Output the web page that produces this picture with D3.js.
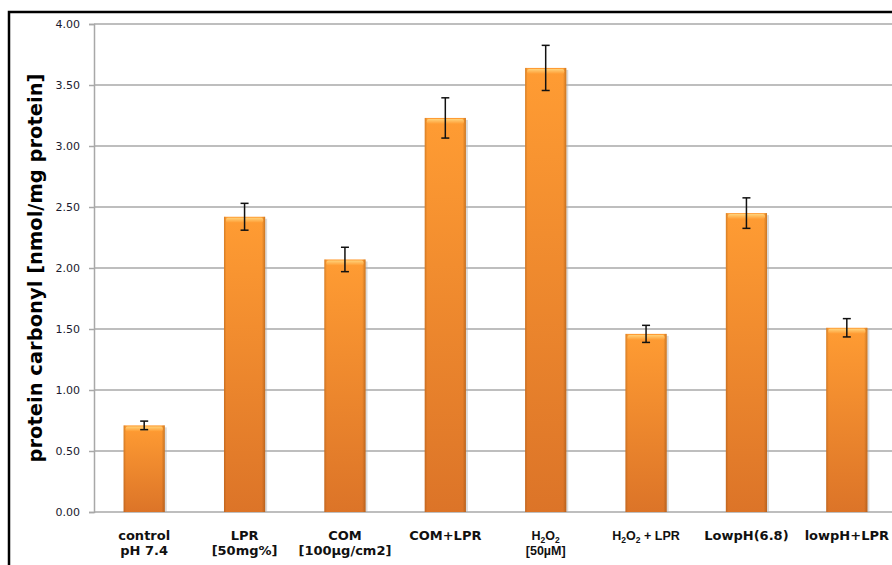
<!DOCTYPE html>
<html><head><meta charset="utf-8">
<script src="https://cdn.jsdelivr.net/npm/d3@7"></script>
<style>body{margin:0;background:#fff}</style>
</head><body>
<script>
const categories = ["control|pH 7.4","LPR|[50mg%]","COM|[100µg/cm2]","COM+LPR","H2O2|[50µM]","H2O2+LPR","LowpH(6.8)","lowpH+LPR"];
const values = [0.71, 2.42, 2.07, 3.23, 3.64, 1.46, 2.45, 1.51];
const errors = [0.035, 0.11, 0.10, 0.165, 0.185, 0.07, 0.125, 0.075];
const yTicks = [0,0.5,1,1.5,2,2.5,3,3.5,4];
const yTitle = "protein carbonyl [nmol/mg protein]";

const W=892,H=565;
const svg=d3.select("body").append("svg").attr("width",W).attr("height",H);
const defs=svg.append("defs");
const gv=defs.append("linearGradient").attr("id","gv").attr("x1",0).attr("y1",0).attr("x2",0).attr("y2",1);
gv.append("stop").attr("offset","0%").attr("stop-color","#ff9c33");
gv.append("stop").attr("offset","100%").attr("stop-color","#dc7428");
const gh=defs.append("linearGradient").attr("id","gh").attr("x1",0).attr("y1",0).attr("x2",1).attr("y2",0);
gh.append("stop").attr("offset","0%").attr("stop-color","#8a4a10").attr("stop-opacity",0.35);
gh.append("stop").attr("offset","6%").attr("stop-color","#8a4a10").attr("stop-opacity",0);
gh.append("stop").attr("offset","92%").attr("stop-color","#8a4a10").attr("stop-opacity",0);
gh.append("stop").attr("offset","100%").attr("stop-color","#8a4a10").attr("stop-opacity",0.45);
const gt=defs.append("linearGradient").attr("id","gt").attr("x1",0).attr("y1",0).attr("x2",0).attr("y2",1);
gt.append("stop").attr("offset","0%").attr("stop-color","#ffd27a");
gt.append("stop").attr("offset","100%").attr("stop-color","#ff9c33");

// outer border
svg.append("path").attr("d","M9,566 V12 H893").attr("fill","none").attr("stroke","#000").attr("stroke-width",2.5);

const x0=94, x1=897, yTop=24, yBot=512;
const x=d3.scaleBand().domain(categories).range([x0,x1]).paddingInner(0.59).paddingOuter(0.295);
const y=d3.scaleLinear().domain([0,4]).range([yBot,yTop]);

// gridlines
svg.append("g").selectAll("line").data(yTicks).join("line")
 .attr("x1",x0).attr("x2",W).attr("y1",d=>y(d)).attr("y2",d=>y(d))
 .attr("stroke","#a8a8a8").attr("stroke-width",1.5);

// y axis
const ya=svg.append("g").attr("transform",`translate(${x0},0)`)
 .call(d3.axisLeft(y).tickValues(yTicks).tickFormat(d3.format(".2f")).tickSize(5).tickPadding(9));
ya.select(".domain").attr("stroke","#a8a8a8").attr("stroke-width",1.5);
ya.selectAll(".tick line").attr("stroke","#a8a8a8").attr("stroke-width",1.5);
ya.selectAll("text").attr("font-family","DejaVu Sans, Verdana, sans-serif").attr("font-size",11).attr("fill","#1a1a2e");

// y title
svg.append("text").attr("transform",`translate(42,268) rotate(-90)`)
 .attr("text-anchor","middle").attr("font-family","DejaVu Sans, Verdana, sans-serif")
 .attr("font-weight","bold").attr("font-size",19.5).attr("fill","#000").text(yTitle);

// bars
const bw=x.bandwidth();
const bars=svg.append("g").selectAll("g").data(categories).join("g");
bars.append("rect").attr("x",d=>x(d)+2).attr("y",(d,i)=>y(values[i])+2).attr("width",bw).attr("height",(d,i)=>yBot-y(values[i])-2)
 .attr("fill","#b0b0b0").attr("opacity",0.45);
bars.append("rect").attr("x",d=>x(d)).attr("y",(d,i)=>y(values[i])).attr("width",bw).attr("height",(d,i)=>yBot-y(values[i]))
 .attr("fill","url(#gv)");
bars.append("rect").attr("x",d=>x(d)).attr("y",(d,i)=>y(values[i])).attr("width",bw).attr("height",(d,i)=>yBot-y(values[i]))
 .attr("fill","url(#gh)");
bars.append("rect").attr("x",d=>x(d)+2).attr("y",(d,i)=>y(values[i])+1).attr("width",bw-4).attr("height",5)
 .attr("fill","url(#gt)").attr("rx",2);

// error bars
const eb=svg.append("g").attr("stroke","#111").attr("stroke-width",1.5);
categories.forEach((c,i)=>{
  const cx=x(c)+bw/2, yt=y(values[i]+errors[i]), yb=y(values[i]-errors[i]);
  eb.append("line").attr("x1",cx).attr("x2",cx).attr("y1",yt).attr("y2",yb);
  eb.append("line").attr("x1",cx-4).attr("x2",cx+4).attr("y1",yt).attr("y2",yt);
  eb.append("line").attr("x1",cx-4).attr("x2",cx+4).attr("y1",yb).attr("y2",yb);
});

// x labels
const lab=svg.append("g").attr("font-family","DejaVu Sans, Verdana, sans-serif").attr("font-weight","bold").attr("fill","#111").attr("text-anchor","middle");
categories.forEach((c,i)=>{
  const cx=x(c)+bw/2;
  const parts=c.split("|");
  parts.forEach((p,j)=>{
    const t=lab.append("text").attr("x",cx).attr("y",540+j*15);
    if(p.startsWith("H2O2")){
      t.attr("font-family","Liberation Sans, Arial, sans-serif").attr("font-size",12.5);
      t.append("tspan").text("H");
      t.append("tspan").attr("font-size",8.5).attr("dy",3).text("2");
      t.append("tspan").attr("dy",-3).text("O");
      t.append("tspan").attr("font-size",8.5).attr("dy",3).text("2");
      t.append("tspan").attr("dy",-3).text(p.slice(4).replace("+"," + "));
    } else if(p==="[50µM]"){
      t.attr("font-family","Liberation Sans, Arial, sans-serif").attr("font-size",12.5).text(p);
    } else {
      t.attr("font-size",13).text(p);
    }
  });
});
</script>
</body></html>
